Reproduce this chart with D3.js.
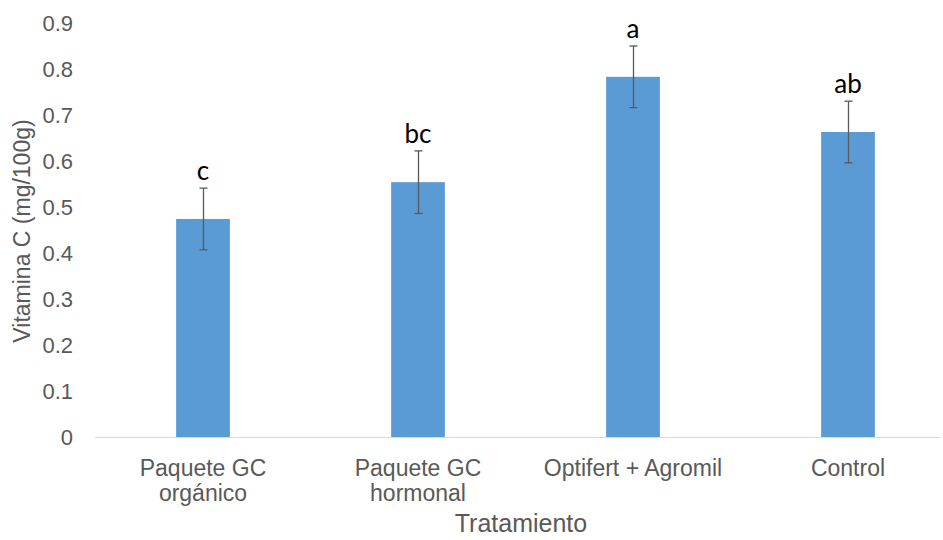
<!DOCTYPE html>
<html>
<head>
<meta charset="utf-8">
<script src="https://cdn.jsdelivr.net/npm/d3@7"></script>
<style>
  html, body { margin: 0; padding: 0; background: #fff; }
  svg { display: block; }
</style>
</head>
<body>
<svg id="chart" width="943" height="540"></svg>
<script>
// Vitamin C content by treatment, with standard error and significance letters
const categories = [["Paquete GC", "orgánico"], ["Paquete GC", "hormonal"], ["Optifert + Agromil"], ["Control"]];
const values = [0.474, 0.554, 0.783, 0.663];
const errors = [0.067, 0.068, 0.067, 0.067];
const letters = ["c", "bc", "a", "ab"];
const yTicks = [0, 0.1, 0.2, 0.3, 0.4, 0.5, 0.6, 0.7, 0.8, 0.9];

const svg = d3.select("#chart");
const keys = categories.map(c => c.join(" "));

const x = d3.scaleBand().domain(keys).range([95.5, 955.5]).paddingInner(0.75).paddingOuter(0.375);
const y = d3.scaleLinear().domain([0, 0.9]).range([437, 23]);

const gray = "#595959";
const font = "'Liberation Sans', Arial, sans-serif";

// Y tick labels
svg.append("g").selectAll("text").data(yTicks).join("text")
  .attr("x", 73).attr("y", d => y(d)).attr("dy", "0.35em")
  .attr("text-anchor", "end")
  .attr("font-family", font).attr("font-size", 22).attr("fill", gray)
  .text(d => d === 0 ? "0" : d3.format(".1f")(d));

// Bars
svg.append("g").selectAll("rect").data(values).join("rect")
  .attr("x", (d, i) => x(keys[i]))
  .attr("width", x.bandwidth())
  .attr("y", d => y(d))
  .attr("height", d => y(0) - y(d))
  .attr("fill", "#5B9BD5");

// Category axis line
svg.append("line")
  .attr("x1", 95).attr("x2", 940).attr("y1", y(0) + 0.5).attr("y2", y(0) + 0.5)
  .attr("stroke", "#D9D9D9").attr("stroke-width", 1.2);

// Error bars
const eb = svg.append("g").attr("stroke", gray).attr("stroke-width", 1.3);
values.forEach((v, i) => {
  const cx = Math.round(x(keys[i]) + x.bandwidth() / 2) + 0.5;
  const top = y(v + errors[i]), bot = y(v - errors[i]);
  eb.append("line").attr("x1", cx).attr("x2", cx).attr("y1", top).attr("y2", bot);
  eb.append("line").attr("x1", cx - 4).attr("x2", cx + 4).attr("y1", top).attr("y2", top);
  eb.append("line").attr("x1", cx - 4).attr("x2", cx + 4).attr("y1", bot).attr("y2", bot);
});

// Significance letters
svg.append("g").selectAll("text").data(letters).join("text")
  .attr("x", (d, i) => x(keys[i]) + x.bandwidth() / 2)
  .attr("y", (d, i) => y(values[i] + errors[i]) - 8)
  .attr("text-anchor", "middle")
  .attr("font-family", "Lato, 'Open Sans', sans-serif").attr("font-size", 26).attr("fill", "#000")
  .text(d => d);

// Category labels
const cl = svg.append("g");
categories.forEach((lines, i) => {
  const cx = x(keys[i]) + x.bandwidth() / 2;
  const t = cl.append("text")
    .attr("x", cx).attr("y", 476)
    .attr("text-anchor", "middle")
    .attr("font-family", font).attr("font-size", 23).attr("fill", gray);
  lines.forEach((ln, j) => {
    t.append("tspan").attr("x", cx).attr("dy", j === 0 ? 0 : 25).text(ln);
  });
});

// Axis titles
svg.append("text")
  .attr("x", 521).attr("y", 532)
  .attr("text-anchor", "middle")
  .attr("font-family", font).attr("font-size", 25).attr("fill", gray)
  .text("Tratamiento");

svg.append("text")
  .attr("transform", "translate(30,231) rotate(-90)")
  .attr("text-anchor", "middle")
  .attr("font-family", font).attr("font-size", 23).attr("fill", gray)
  .text("Vitamina C (mg/100g)");
</script>
</body>
</html>
